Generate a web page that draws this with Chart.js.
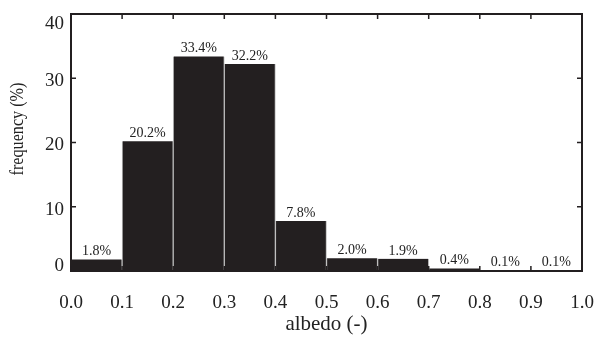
<!DOCTYPE html>
<html><head><meta charset="utf-8">
<script src="https://cdn.jsdelivr.net/npm/chart.js@4"></script>
<style>html,body{margin:0;padding:0;background:#fff}#w{width:597px;height:340px}</style>
</head><body><div id="w"><canvas id="c" width="597" height="340"></canvas></div>
<script>
const binCenters = [0.05,0.15,0.25,0.35,0.45,0.55,0.65,0.75,0.85,0.95];
const frequency = [1.8,20.2,33.4,32.2,7.8,2.0,1.9,0.4,0.1,0.1];
const pctLabels = ["1.8%","20.2%","33.4%","32.2%","7.8%","2.0%","1.9%","0.4%","0.1%","0.1%"];
const xTicks = [0,0.1,0.2,0.3,0.4,0.5,0.6,0.7,0.8,0.9,1.0];
const yTicks = [0,10,20,30,40];
const INK = '#231f20';
const SERIF = '"Liberation Serif","DejaVu Serif",serif';

const framePlugin = {
  id:'frame',
  afterDatasetsDraw(chart){
    const {ctx, chartArea:a, scales:{x,y}} = chart;
    ctx.save();
    ctx.strokeStyle = INK; ctx.lineWidth = 2;
    ctx.strokeRect(a.left, a.top, a.right-a.left, a.bottom-a.top);
    ctx.lineWidth = 1.5;
    ctx.beginPath();
    xTicks.forEach(v=>{const px=x.getPixelForValue(v); ctx.moveTo(px,a.bottom); ctx.lineTo(px,a.bottom-5); ctx.moveTo(px,a.top); ctx.lineTo(px,a.top+5);});
    yTicks.forEach(v=>{const py=y.getPixelForValue(v); ctx.moveTo(a.left,py); ctx.lineTo(a.left+5,py); ctx.moveTo(a.right,py); ctx.lineTo(a.right-5,py);});
    ctx.stroke();
    // y tick labels (kept inside the axis extent like the original)
    ctx.fillStyle = '#222'; ctx.font = '19px '+SERIF; ctx.textAlign='right'; ctx.textBaseline='middle';
    yTicks.forEach((v,i)=>{
      let py = y.getPixelForValue(v) + 3;
      if (i===0) py = y.getPixelForValue(v) - 5;
      if (i===yTicks.length-1) py = y.getPixelForValue(v) + 10;
      ctx.fillText(String(v), a.left-7, py);
    });
    // y title
    ctx.save();
    ctx.translate(18, 129); ctx.rotate(-Math.PI/2); ctx.scale(0.85,1);
    ctx.font = '19px '+SERIF; ctx.textAlign='center'; ctx.textBaseline='middle';
    ctx.fillText('frequency (%)', 0, 0);
    ctx.restore();
    // value labels
    ctx.fillStyle = '#222'; ctx.font = '14px '+SERIF; ctx.textAlign='center'; ctx.textBaseline='alphabetic';
    chart.getDatasetMeta(0).data.forEach((bar,i)=>{ ctx.fillText(pctLabels[i], bar.x, bar.y-4); });
    ctx.restore();
  }
};

new Chart(document.getElementById('c'), {
  type:'bar',
  data:{ datasets:[{ data: binCenters.map((c,i)=>({x:c,y:frequency[i]})), backgroundColor:INK, borderColor:'#bbb', borderWidth:{left:1,right:1,top:0,bottom:0}, barPercentage:1, categoryPercentage:1 }]},
  options:{
    responsive:false, animation:false,
    layout:{padding:{top:14,right:15,left:0,bottom:0}},
    plugins:{legend:{display:false},tooltip:{enabled:false}},
    scales:{
      x:{ type:'linear', min:0, max:1, offset:false,
        afterBuildTicks(s){ s.ticks = xTicks.map(v=>({value:v})); },
        afterFit(s){ s.height = 69; s.paddingLeft = 0; s.paddingRight = 0; },
        grid:{display:false, drawTicks:false}, border:{display:false},
        ticks:{ padding:21, color:'#222', font:{family:SERIF, size:19}, maxRotation:0, autoSkip:false, callback:v=>v.toFixed(1) },
        title:{ display:true, text:'albedo (-)', color:'#222', font:{family:SERIF, size:21}, padding:{top:0,bottom:3} }
      },
      y:{ min:0, max:40,
        afterBuildTicks(s){ s.ticks = yTicks.map(v=>({value:v})); },
        afterFit(s){ s.width = 71; s.paddingTop = 0; s.paddingBottom = 0; },
        grid:{display:false, drawTicks:false}, border:{display:false},
        ticks:{ display:false },
        title:{ display:false }
      }
    }
  },
  plugins:[framePlugin]
});
</script></body></html>
